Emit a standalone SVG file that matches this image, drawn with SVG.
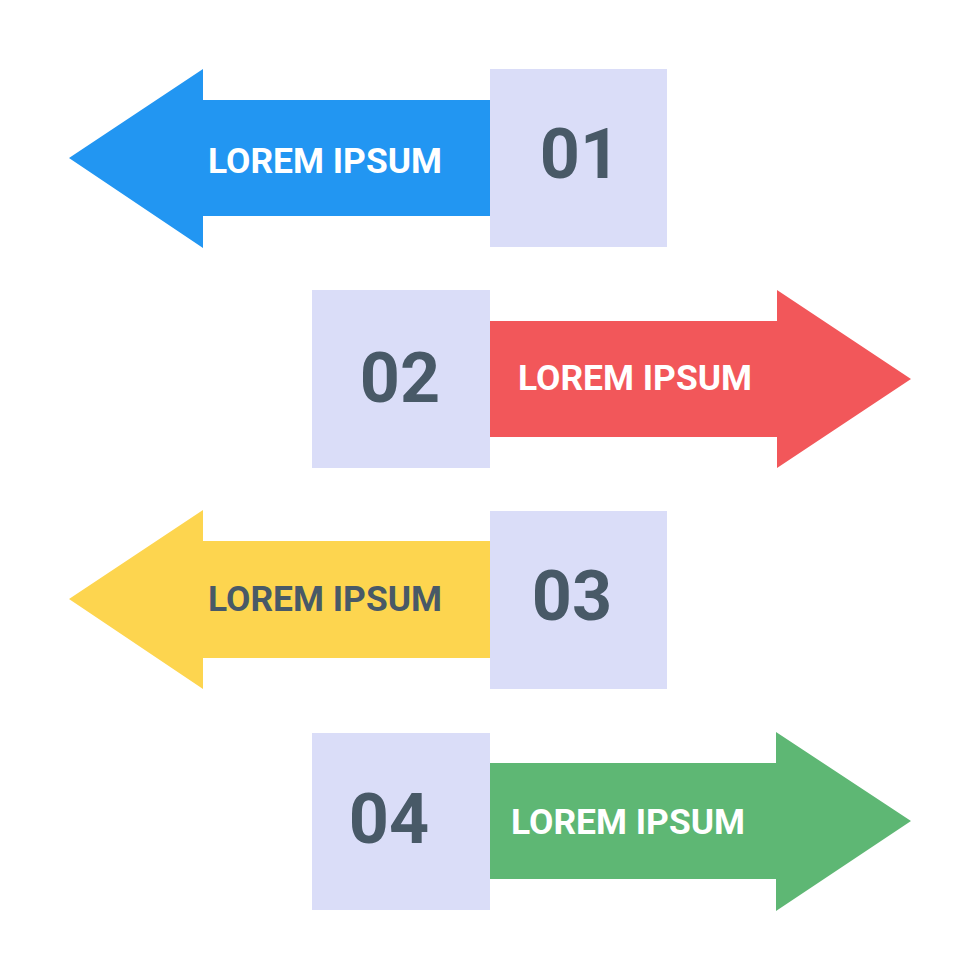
<svg xmlns="http://www.w3.org/2000/svg" width="980" height="980" viewBox="0 0 980 980">
<style>
.box{fill:#DADDF8}
.num{font-family:Roboto,"Liberation Sans",sans-serif;font-weight:700;font-size:70px;fill:#485967;text-anchor:middle}
.lbl{font-family:Roboto,"Liberation Sans",sans-serif;font-weight:700;font-size:35px;text-anchor:middle}
.w{fill:#FFFFFF}
.d{fill:#485967}
</style>
<rect width="980" height="980" fill="#FFFFFF"/>
<g id="step1">
<polygon points="69,158 203,69 203,100 490,100 490,216 203,216 203,248" fill="#2296F2"/>
<rect class="box" x="490" y="69" width="177" height="178"/>
<text class="lbl w" x="325" y="173" textLength="234" lengthAdjust="spacingAndGlyphs">LOREM IPSUM</text>
<text class="num" x="580" y="178">01</text>
</g>
<g id="step2">
<polygon points="911,379 777,290 777,321 490,321 490,437 777,437 777,468" fill="#F2575A"/>
<rect class="box" x="312" y="290" width="178" height="178"/>
<text class="lbl w" x="635" y="390" textLength="234" lengthAdjust="spacingAndGlyphs">LOREM IPSUM</text>
<text class="num" x="400" y="402">02</text>
</g>
<g id="step3">
<polygon points="69,599 203,510 203,541 490,541 490,658 203,658 203,689" fill="#FDD54F"/>
<rect class="box" x="490" y="511" width="177" height="178"/>
<text class="lbl d" x="325" y="611" textLength="234" lengthAdjust="spacingAndGlyphs">LOREM IPSUM</text>
<text class="num" x="572" y="620">03</text>
</g>
<g id="step4">
<polygon points="911,821 776,732 776,763 490,763 490,879 776,879 776,911" fill="#5EB774"/>
<rect class="box" x="312" y="733" width="178" height="177"/>
<text class="lbl w" x="628" y="834" textLength="234" lengthAdjust="spacingAndGlyphs">LOREM IPSUM</text>
<text class="num" x="389" y="843">04</text>
</g>
<g id="connectors"/>
</svg>
